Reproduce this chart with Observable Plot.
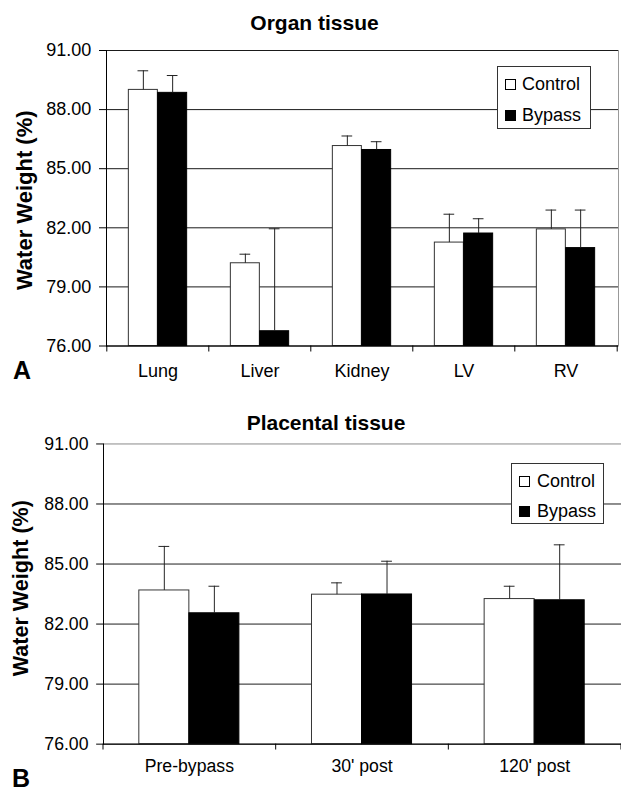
<!DOCTYPE html>
<html><head><meta charset="utf-8">
<script src="https://cdn.jsdelivr.net/npm/d3@7"></script>
<script src="https://cdn.jsdelivr.net/npm/@observablehq/plot@0.6"></script>
<style>
html,body{margin:0;padding:0;background:#fff;}
#page{position:relative;width:621px;height:791px;overflow:hidden;font-family:"Liberation Sans",Arial,sans-serif;color:#000;background:#fff;}
.abs{position:absolute;}
.title{font-size:21px;font-weight:bold;line-height:21px;text-align:center;width:400px;white-space:nowrap;}
.letter{font-size:25px;font-weight:bold;line-height:25px;}
.legend{background:#fff;border:1px solid #333;box-sizing:border-box;}
.legend .sw{position:absolute;width:11px;height:11px;box-sizing:border-box;border:1px solid #000;}
.legend .lab{position:absolute;font-size:18px;line-height:18px;white-space:nowrap;}
</style></head><body><div id="page"></div>
<script>
// ---- data ----
const seriesNames = ["Control", "Bypass"];
const seriesFill = ["#fff", "#000"];
const yTicks = [76, 79, 82, 85, 88, 91];

const organCategories = ["Lung", "Liver", "Kidney", "LV", "RV"];
const organControl    = [89.00, 80.20, 86.15, 81.25, 81.92];
const organControlErr = [0.97, 0.46, 0.51, 1.44, 0.98];
const organBypass     = [88.85, 76.75, 85.95, 81.71, 80.97];
const organBypassErr  = [0.88, 5.20, 0.42, 0.75, 1.93];

const placentaCategories = ["Pre-bypass", "30' post", "120' post"];
const placentaControl    = [83.68, 83.47, 83.25];
const placentaControlErr = [2.20, 0.59, 0.64];
const placentaBypass     = [82.54, 83.48, 83.19];
const placentaBypassErr  = [1.35, 1.66, 2.77];

const page = document.getElementById("page");

function addDiv(cls, text, style) {
  const d = document.createElement("div");
  d.className = "abs " + cls;
  d.textContent = text;
  Object.assign(d.style, style);
  page.appendChild(d);
  return d;
}

function drawChart(cfg) {
  const {categories, control, controlErr, bypass, bypassErr} = cfg;
  const rows = [];
  categories.forEach((c, i) => {
    rows.push({cat: c, series: "Control", value: control[i], err: controlErr[i]});
    rows.push({cat: c, series: "Bypass", value: bypass[i], err: bypassErr[i]});
  });
  const step = (cfg.width - cfg.marginLeft - cfg.marginRight) / categories.length;
  const p = 1 - cfg.barWidth / step;
  const capInset = (cfg.barWidth - 11) / 2;
  const yMin = yTicks[0];

  const marks = [
    Plot.gridY(yTicks, {stroke: d => d === 91 ? cfg.topGrid : "#1a1a1a", strokeOpacity: 1})
  ];
  seriesNames.forEach((s, si) => {
    const d = rows.filter(r => r.series === s);
    const off = (si === 0 ? -1 : 1) * cfg.barWidth / 2;
    marks.push(Plot.barY(d, {x: "cat", y1: yMin, y2: "value", dx: off,
      fill: seriesFill[si], stroke: si === 0 ? "#333" : "#000", strokeWidth: 1}));
    marks.push(Plot.ruleX(d, {x: "cat", y1: "value", y2: r => r.value + r.err, dx: off, stroke: "#222"}));
    marks.push(Plot.tickY(d, {x: "cat", y: r => r.value + r.err, dx: off,
      insetLeft: capInset, insetRight: capInset, stroke: "#222"}));
  });
  marks.push(Plot.ruleY([yMin], {stroke: "#000"}));
  marks.push(Plot.frame({anchor: "left", stroke: "#000"}));
  if (cfg.rightBorder) marks.push(Plot.frame({anchor: "right", stroke: "#999"}));
  marks.push(Plot.axisY({ticks: yTicks, tickSize: 7, tickPadding: 8.3,
    tickFormat: d => d.toFixed(2), fontSize: 18, label: null}));
  marks.push(Plot.axisX({tickSize: 0, tickPadding: cfg.labelPad, fontSize: 18, label: null}));
  marks.push(Plot.axisX({tickSize: 6, tickFormat: () => "", dx: -step / 2, label: null}));
  marks.push(Plot.axisX({ticks: [categories[categories.length - 1]], tickSize: 6, tickFormat: () => "", dx: step / 2, label: null}));
  marks.push(Plot.text(["Water Weight (%)"], {text: d => d, frameAnchor: "left", textAnchor: "middle",
    lineAnchor: "middle", rotate: -90,
    dx: cfg.ylabelDx, dy: cfg.ylabelDy, fontSize: 22, fontWeight: "bold", fill: "#000"}));

  const svg = Plot.plot({
    width: cfg.width, height: cfg.height,
    marginLeft: cfg.marginLeft, marginRight: cfg.marginRight,
    marginTop: cfg.marginTop, marginBottom: cfg.marginBottom,
    x: {type: "band", domain: categories, paddingInner: p, paddingOuter: p / 2, align: 0.5},
    y: {domain: [yTicks[0], yTicks[yTicks.length - 1]]},
    style: {fontFamily: "'Liberation Sans', Arial, sans-serif", fontSize: "18px", color: "#000", background: "transparent", overflow: "visible"},
    marks
  });
  const wrap = document.createElement("div");
  wrap.className = "abs";
  wrap.style.left = "0px";
  wrap.style.top = cfg.top + "px";
  wrap.appendChild(svg);
  page.appendChild(wrap);

  // title
  addDiv("title", cfg.title, {left: (cfg.titleX - 200) + "px", top: cfg.titleTop + "px"});
  // panel letter
  addDiv("letter", cfg.letter, {left: cfg.letterX + "px", top: cfg.letterTop + "px"});
  // legend
  const lg = addDiv("legend", "", {left: cfg.legend.x + "px", top: cfg.legend.y + "px",
    width: cfg.legend.w + "px", height: cfg.legend.h + "px"});
  seriesNames.forEach((s, si) => {
    const sw = document.createElement("div");
    sw.className = "sw";
    sw.style.left = cfg.legend.swX + "px";
    sw.style.top = (cfg.legend.swY + si * cfg.legend.row) + "px";
    sw.style.background = seriesFill[si];
    lg.appendChild(sw);
    const lb = document.createElement("div");
    lb.className = "lab";
    lb.textContent = s;
    lb.style.left = cfg.legend.txtX + "px";
    lb.style.top = (cfg.legend.txtY + si * cfg.legend.row) + "px";
    lg.appendChild(lb);
  });
}

drawChart({
  categories: organCategories, control: organControl, controlErr: organControlErr,
  bypass: organBypass, bypassErr: organBypassErr,
  top: 0, width: 621, height: 390, marginLeft: 106, marginRight: 3, marginTop: 50, marginBottom: 44.5,
  barWidth: 29.3, labelPad: 18.4, topGrid: "#1a1a1a", rightBorder: true,
  ylabelDx: -82, ylabelDy: 2,
  title: "Organ tissue", titleX: 314.5, titleTop: 11.8,
  letter: "A", letterX: 13, letterTop: 357.8,
  legend: {x: 497, y: 66, w: 94, h: 63, swX: 7, swY: 12, txtX: 24, txtY: 8, row: 31}
});

drawChart({
  categories: placentaCategories, control: placentaControl, controlErr: placentaControlErr,
  bypass: placentaBypass, bypassErr: placentaBypassErr,
  top: 390, width: 633, height: 401, marginLeft: 105, marginRight: 0, marginTop: 54.5, marginBottom: 40.5,
  barWidth: 51, labelPad: 15.4, topGrid: "#888", rightBorder: false,
  ylabelDx: -84, ylabelDy: -6,
  title: "Placental tissue", titleX: 326, titleTop: 411.5,
  letter: "B", letterX: 12, letterTop: 766,
  legend: {x: 511, y: 463, w: 93, h: 61, swX: 7, swY: 12, txtX: 25, txtY: 8, row: 30}
});
</script></body></html>
